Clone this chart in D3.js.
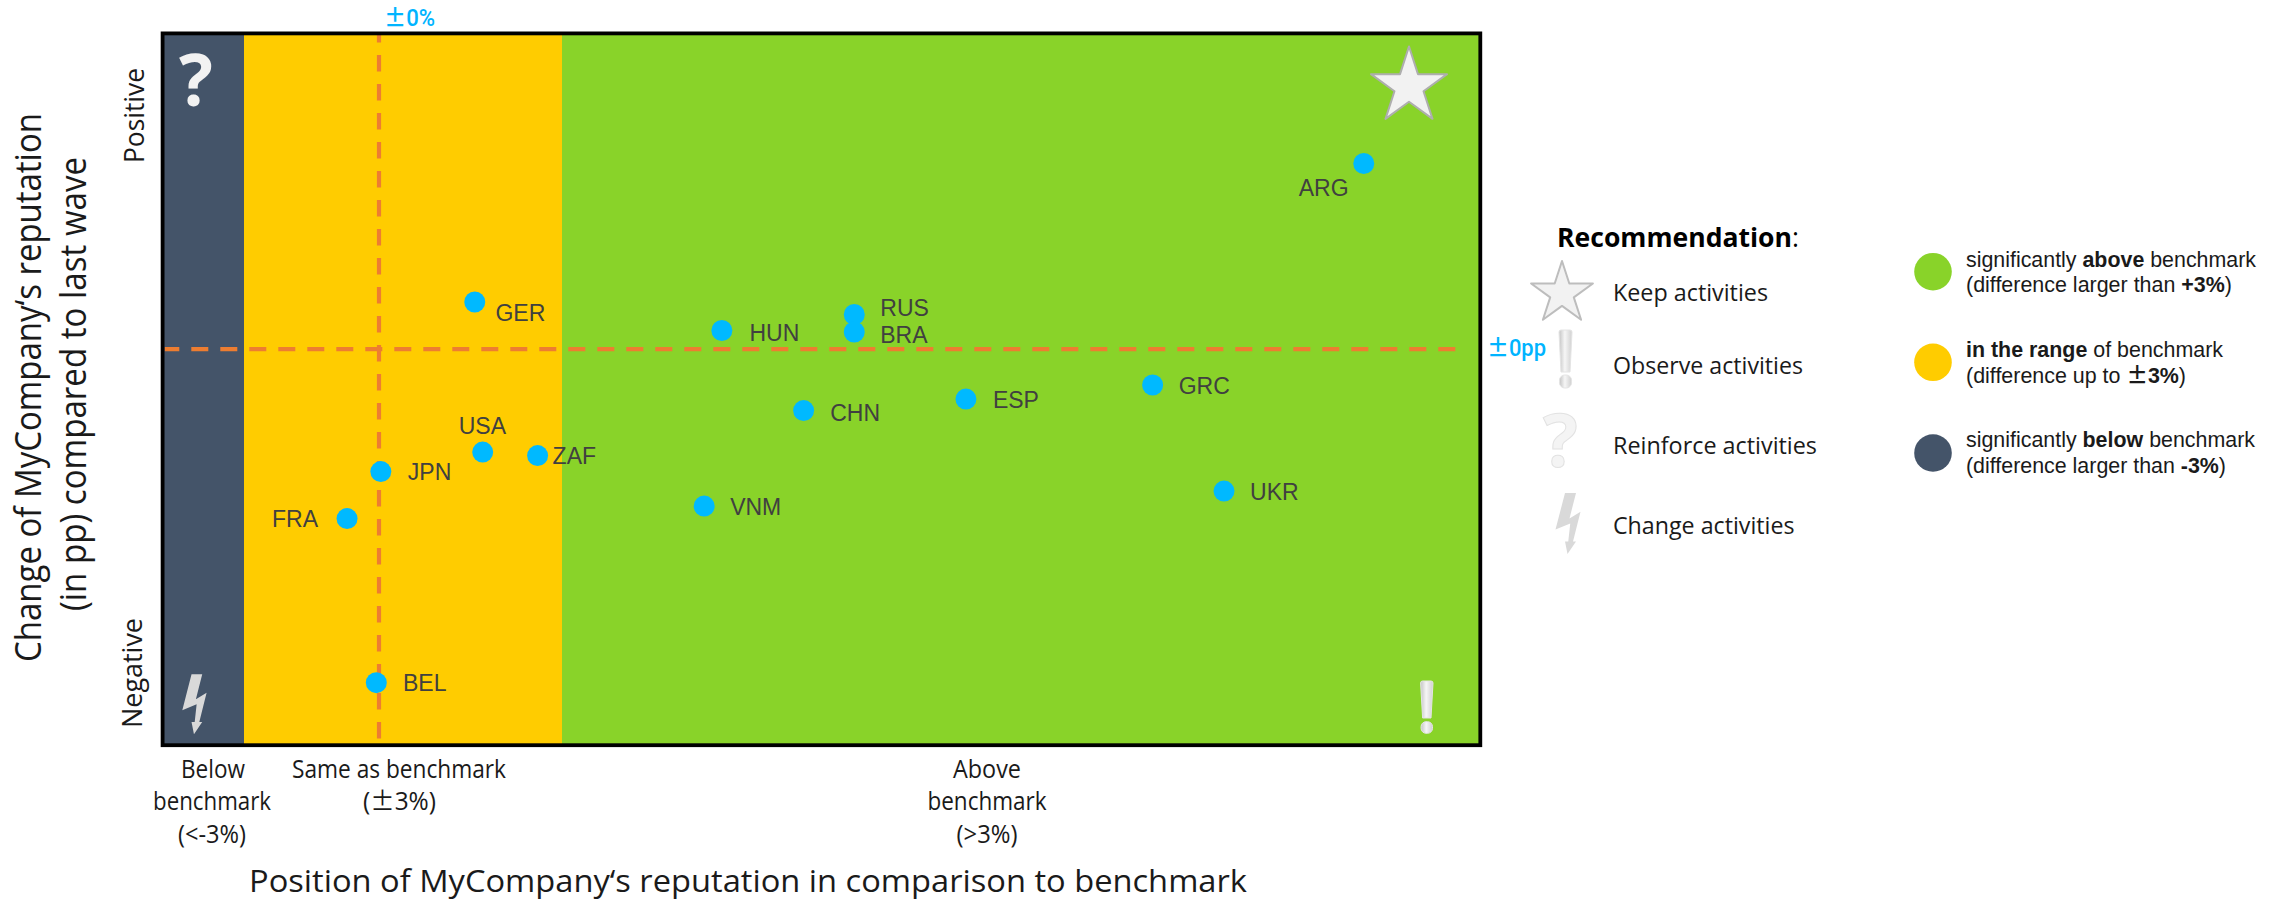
<!DOCTYPE html>
<html><head><meta charset="utf-8">
<script src="https://cdn.jsdelivr.net/npm/d3@7"></script>
<style>
html,body{margin:0;background:#fff}
svg{display:block}
.ax{font-family:"Open Sans",sans-serif;fill:#1a1a1a}
.ar{font-family:"Liberation Sans",Arial,sans-serif}
</style>
</head><body><div id="c"></div>
<script>
// Reputation position against benchmark (%) and change since last wave (pp)
const countries=["ARG","GER","RUS","BRA","HUN","CHN","ESP","GRC","USA","ZAF","JPN","FRA","VNM","UKR","BEL"];
const position=[16.14,1.57,7.79,7.79,5.62,6.96,9.62,12.68,1.70,2.60,0.03,-0.71,5.33,13.85,-0.06];
const change=[3.71,0.94,0.69,0.34,0.37,-1.23,-1.00,-0.72,-2.06,-2.13,-2.45,-3.39,-3.14,-2.84,-6.67];
const bandEdges=[-4.8,-3,3,18.05];
const bandColors=["#445469","#ffcc00","#89d329"];
const recommendations=["Keep activities","Observe activities","Reinforce activities","Change activities"];

const W=2282,H=901;
const frame={l:162.6,t:33.4,r:1480.3,b:745.2};
const x=d3.scaleLinear().domain([-4.8,-3,0,3,18.05]).range([frame.l,244,379,562,frame.r]);
const y=d3.scaleLinear().domain([6.31,-7.92]).range([frame.t,frame.b]);

const svg=d3.select("#c").append("svg").attr("width",W).attr("height",H);
const defs=svg.append("defs");
const grad=defs.append("linearGradient").attr("id","mark");
[["0","#c4c4c4"],[".45","#f6f6f6"],["1","#d0d0d0"]].forEach(s=>grad.append("stop").attr("offset",s[0]).attr("stop-color",s[1]));

// Background bands
svg.append("g").selectAll("rect").data(bandColors).join("rect")
  .attr("x",(d,i)=>x(bandEdges[i])).attr("width",(d,i)=>x(bandEdges[i+1])-x(bandEdges[i]))
  .attr("y",frame.t).attr("height",frame.b-frame.t).attr("fill",d=>d);

// Zero reference lines
svg.append("line").attr("x1",164.6).attr("x2",1460).attr("y1",y(0)).attr("y2",y(0))
  .attr("stroke","#ed7d31").attr("stroke-width",4.2).attr("stroke-dasharray","17 12").attr("stroke-dashoffset",2.3);
svg.append("line").attr("x1",x(0)).attr("x2",x(0)).attr("y1",35).attr("y2",740)
  .attr("stroke","#ed7d31").attr("stroke-width",4.2).attr("stroke-dasharray","16.5 12.5").attr("stroke-dashoffset",9);

svg.append("rect").attr("x",frame.l).attr("y",frame.t).attr("width",frame.r-frame.l).attr("height",frame.b-frame.t)
  .attr("fill","none").attr("stroke","#000").attr("stroke-width",3.8);

// Icon helpers
function star(cx,cy,R,fill,stroke){
  const pts=d3.range(10).map(i=>{const r=i%2?R*0.382:R,a=i*Math.PI/5;return [cx+r*Math.sin(a),cy-r*Math.cos(a)];});
  svg.append("path").attr("d","M"+pts.join("L")+"Z").attr("fill",fill).attr("stroke",stroke).attr("stroke-width",2).attr("stroke-linejoin","round");
}
const boltShape=[[.38,0],[.82,0],[.56,.417],[1,.306],[.70,.794],[.82,.794],[.48,1],[.38,.794],[.51,.794],[.59,.5],[0,.6]];
function bolt(bx,by,w,h){
  svg.append("path").attr("d","M"+boltShape.map(p=>[bx+p[0]*w,by+p[1]*h]).join("L")+"Z").attr("fill","#d9d9d9");
}
function bang(bx,by,w,barH,dotH,gap){
  const g=svg.append("g").attr("fill","url(#mark)").attr("stroke","#e4e4e4").attr("stroke-width",1);
  g.append("path").attr("d",`M${bx},${by+2}Q${bx},${by} ${bx+2},${by}L${bx+w-2},${by}Q${bx+w},${by} ${bx+w},${by+2}L${bx+w-2},${by+barH}L${bx+2},${by+barH}Z`);
  g.append("rect").attr("x",bx+.5).attr("y",by+barH+gap).attr("width",w-1).attr("height",dotH).attr("rx",w*.4);
}

star(1409,86.5,40,"#f2f2f2","#aeaeae");
bang(1420.6,681,12.4,37,11.6,3.7);
bolt(182.3,674.3,24.3,60);
svg.append("text").attr("x",196).attr("y",106).attr("text-anchor","middle").attr("class","ax")
  .attr("font-size",71).attr("font-weight",700).style("fill","#f2f2f2").text("?");

// Country points and their labels
const labelOffset={ARG:[-65,33],GER:[20.7,19],RUS:[26,1],BRA:[26,11],HUN:[27.6,10],CHN:[26.6,10],ESP:[27,9],GRC:[26,9],
  USA:[-24,-18],ZAF:[15,8.5],JPN:[27,8.5],FRA:[-75,8.4],VNM:[26,8.7],UKR:[26,9],BEL:[26.7,8.4]};
const pts=countries.map((c,i)=>({c,px:x(position[i]),py:y(change[i])}));
svg.append("g").selectAll("circle").data(pts).join("circle")
  .attr("cx",d=>d.px).attr("cy",d=>d.py).attr("r",10.5).attr("fill","#00b9ff");
svg.append("g").selectAll("text").data(pts).join("text").attr("class","ar")
  .attr("x",d=>d.px+labelOffset[d.c][0]).attr("y",d=>d.py+labelOffset[d.c][1])
  .attr("font-size",23).attr("fill","#404040").text(d=>d.c);

// Appends text, setting the plus-minus sign in a wider CJK face
function fill(node,t,signWeight){
  t.split(/(±)/).filter(Boolean).forEach(s=>{
    const span=node.append("tspan").text(s);
    if(s==="±"){
      span.attr("font-family","'Noto Sans CJK SC'");
      if(signWeight) span.attr("font-weight",signWeight);
    }
  });
}
// Fitted text: width is set so glyphs sit in the available run
function fit(t,px,py,len,size,anchor){
  const n=svg.append("text").attr("class","ax").attr("x",px).attr("y",py).attr("font-size",size)
    .attr("text-anchor",anchor||"start").attr("textLength",len).attr("lengthAdjust","spacingAndGlyphs");
  fill(n,t);
  return n;
}
function rot(t,bx,cy,len,size){
  svg.append("text").attr("class","ax").attr("transform",`translate(${bx},${cy}) rotate(-90)`).attr("text-anchor","middle")
    .attr("font-size",size).attr("textLength",len).attr("lengthAdjust","spacingAndGlyphs").text(t);
}

rot("Change of MyCompany‘s reputation",41,387.5,549,36);
rot("(in pp) compared to last wave",86,384,454,36);
rot("Positive",143.5,115.5,95,28);
rot("Negative",142,673,110,28);

fit("Below",213,778,64,25,"middle");
fit("benchmark",212,810,118,25,"middle");
fit("(<-3%)",212,843,68,25,"middle");
fit("Same as benchmark",399,778,214,25,"middle");
fit("(±3%)",399.5,810,73,25,"middle");
fit("Above",987,778,68,25,"middle");
fit("benchmark",987,810,119,25,"middle");
fit("(>3%)",987,843,61,25,"middle");
fit("Position of MyCompany‘s reputation in comparison to benchmark",249,891.5,998,31);

// Zero-line captions
const cap0=svg.append("text").attr("x",384).attr("y",25.7).attr("textLength",51).attr("lengthAdjust","spacingAndGlyphs")
  .attr("font-family","Roboto,sans-serif").attr("font-size",23).attr("font-weight",500).attr("fill","#00b4ff");
fill(cap0,"±0%",700);
const cap1=svg.append("text").attr("x",1487).attr("y",356).attr("textLength",59).attr("lengthAdjust","spacingAndGlyphs")
  .attr("font-family","Roboto,sans-serif").attr("font-size",23).attr("font-weight",500).attr("fill","#00b4ff");
fill(cap1,"±0pp",700);

// Recommendation legend
const rec=svg.append("text").attr("class","ax").attr("x",1557).attr("y",246.7).attr("font-size",27)
  .attr("textLength",242).attr("lengthAdjust","spacingAndGlyphs").style("fill","#000");
rec.append("tspan").attr("font-weight",700).text("Recommendation");
rec.append("tspan").text(":");
const recY=[300.7,374,454,534],recW=[155,190,204,181.5];
recommendations.forEach((t,i)=>fit(t,1613,recY[i],recW[i],24));
star(1562,293.5,32.5,"#f2f2f2","#bdbdbd");
bang(1559,330,13,42,13,3);
svg.append("text").attr("x",1560.5).attr("y",467).attr("text-anchor","middle").attr("class","ax").attr("font-size",73)
  .attr("font-weight",700).style("fill","#f4f4f4").attr("stroke","#e2e2e2").attr("stroke-width",1).text("?");
bolt(1555.5,493,25,61);

// Colour legend
const colorLegend=[
  {c:bandColors[2],cy:271.7,lines:[[["significantly "],["above",1],[" benchmark"]],[["(difference larger than "],["+3%",1],[")"]]],ys:[266.7,291.7],w:[290,266]},
  {c:bandColors[1],cy:362.3,lines:[[["in the range",1],[" of benchmark"]],[["(difference up to "],["±3%",1],[")"]]],ys:[356.7,382.7],w:[257,220]},
  {c:bandColors[0],cy:453,lines:[[["significantly "],["below",1],[" benchmark"]],[["(difference larger than "],["-3%",1],[")"]]],ys:[447,473],w:[289,260]}
];
colorLegend.forEach(e=>{
  svg.append("circle").attr("cx",1933).attr("cy",e.cy).attr("r",18.8).attr("fill",e.c);
  e.lines.forEach((ln,i)=>{
    const t=svg.append("text").attr("class","ar").attr("x",1966).attr("y",e.ys[i]).attr("font-size",21.5).attr("fill","#1a1a1a")
      .attr("textLength",e.w[i]).attr("lengthAdjust","spacingAndGlyphs");
    ln.forEach(p=>{
      const holder=t.append("tspan").attr("font-weight",p[1]?700:400);
      fill(holder,p[0]);
    });
  });
});
</script></body></html>
